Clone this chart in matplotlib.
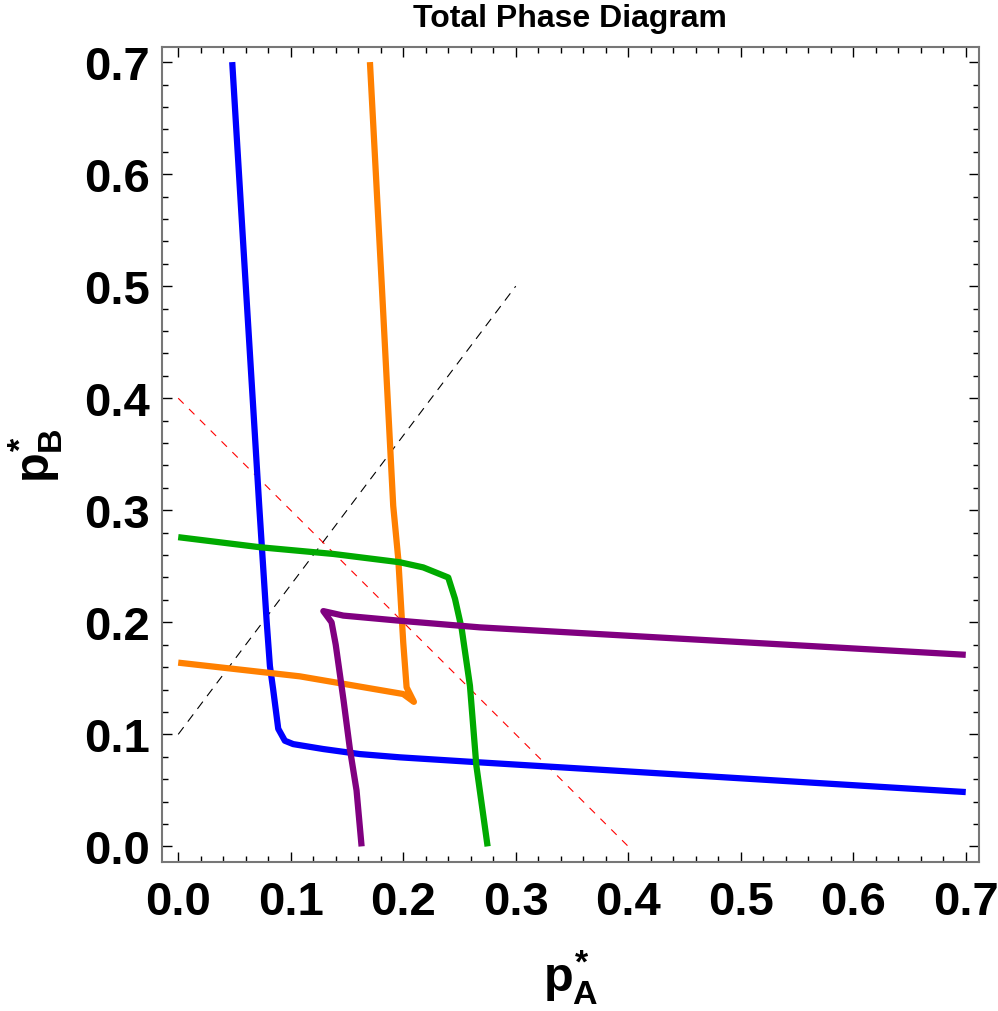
import matplotlib
matplotlib.use("Agg")
import matplotlib.pyplot as plt
from matplotlib.ticker import MultipleLocator

plt.rcParams['font.family'] = ['Liberation Sans', 'DejaVu Sans']
plt.rcParams['font.weight'] = 'bold'
plt.rcParams['mathtext.fontset'] = 'custom'
plt.rcParams['mathtext.rm'] = 'Liberation Sans:bold'
plt.rcParams['mathtext.it'] = 'Liberation Sans:bold'
plt.rcParams['mathtext.bf'] = 'Liberation Sans:bold'
plt.rcParams['lines.scale_dashes'] = False

# ---------------- DATA ----------------
blue_x = [0.048, 0.058, 0.0653, 0.072, 0.0786, 0.0815, 0.0844, 0.0889, 0.0948,
          0.1022, 0.1289, 0.1615, 0.197, 0.268, 0.7]
blue_y = [0.70, 0.534, 0.414, 0.304, 0.201, 0.161, 0.140, 0.105, 0.0943,
          0.0913, 0.0869, 0.0824, 0.0795, 0.075, 0.0485]

orange_x = [0.1704, 0.1808, 0.1911, 0.1956, 0.200, 0.203, 0.2095, 0.200, 0.108, 0.0]
orange_y = [0.70, 0.5036, 0.304, 0.2565, 0.182, 0.142, 0.129, 0.136, 0.1518, 0.164]

green_x = [0.0, 0.0727, 0.138, 0.197, 0.2178, 0.240, 0.246, 0.252, 0.2593, 0.265, 0.275]
green_y = [0.276, 0.267, 0.261, 0.2536, 0.249, 0.240, 0.221, 0.194, 0.1434, 0.072, 0.0]

purple_x = [0.163, 0.1585, 0.1526, 0.147, 0.140, 0.1363, 0.129, 0.1467, 0.197, 0.268, 0.7]
purple_y = [0.0, 0.05, 0.0869, 0.13, 0.18, 0.200, 0.210, 0.206, 0.2014, 0.1955, 0.171]

# reference lines
diag_x = [0.0, 0.3]
diag_y = [0.1, 0.5]
anti_x = [0.0, 0.4]
anti_y = [0.4, 0.0]

ticks = [0.0, 0.1, 0.2, 0.3, 0.4, 0.5, 0.6, 0.7]

# ---------------- FIGURE ----------------
fig = plt.figure(figsize=(9.98, 10.12), dpi=100)
ax = fig.add_axes([0.162, 0.1477, 0.819, 0.8049])

lw = 4.5
ax.plot(diag_x, diag_y, color="black", lw=0.8, dashes=(6.5, 5))
ax.plot(anti_x, anti_y, color="red", lw=0.8, dashes=(5.5, 5.5))
ax.plot(blue_x, blue_y, color="#0000ff", lw=lw, solid_joinstyle="round", solid_capstyle="butt")
ax.plot(orange_x, orange_y, color="#ff8000", lw=lw, solid_joinstyle="round", solid_capstyle="butt")
ax.plot(green_x, green_y, color="#00aa00", lw=lw, solid_joinstyle="round", solid_capstyle="butt")
ax.plot(purple_x, purple_y, color="#800080", lw=lw, solid_joinstyle="round", solid_capstyle="butt")

ax.set_xlim(-0.0147, 0.7118)
ax.set_ylim(-0.0135, 0.7135)
ax.set_xticks(ticks)
ax.set_yticks(ticks)
ax.set_xticklabels([f"{t:.1f}" for t in ticks])
ax.set_yticklabels([f"{t:.1f}" for t in ticks])
ax.xaxis.set_minor_locator(MultipleLocator(0.02))
ax.yaxis.set_minor_locator(MultipleLocator(0.02))

ax.tick_params(which="both", direction="in", top=True, right=True, color="black", width=1)
ax.tick_params(which="major", length=7.5, labelsize=34)
ax.tick_params(which="minor", length=4.5)
ax.tick_params(axis="x", which="major", pad=13.5)
ax.tick_params(axis="y", which="major", pad=8.5)
for s in ax.spines.values():
    s.set_color("#777777")
    s.set_linewidth(1.5)

ax.set_title("Total Phase Diagram", fontsize=23, fontweight="bold", pad=15)
ax.set_xlabel(r"$p^{*}_{A}$", fontsize=35)
ax.set_ylabel(r"$p^{*}_{B}$", fontsize=35)
ax.xaxis.set_label_coords(0.5, -0.106)
ax.yaxis.set_label_coords(-0.118, 0.5)

fig.savefig("out.png", dpi=100)
